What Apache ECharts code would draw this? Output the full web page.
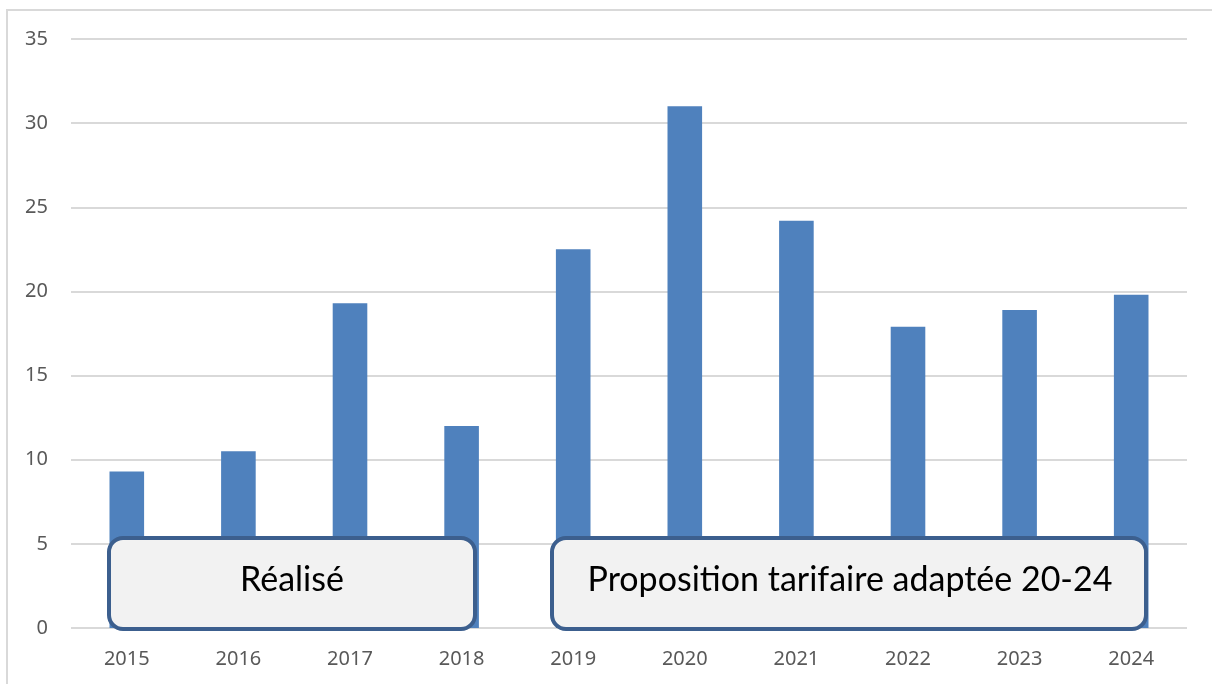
<!DOCTYPE html>
<html>
<head>
<meta charset="utf-8">
<script src="https://cdn.jsdelivr.net/npm/echarts@6/dist/echarts.min.js"></script>
<style>html,body{margin:0;padding:0;background:#fff;}#c{width:1212px;height:684px;}</style>
</head>
<body>
<div id="c"></div>
<script>
const years = ['2015','2016','2017','2018','2019','2020','2021','2022','2023','2024'];
const values = [9.3, 10.5, 19.3, 12.0, 22.5, 31.0, 24.2, 17.9, 18.9, 19.8];
const boxLabels = ['Réalisé', 'Proposition tarifaire adaptée 20-24'];

const chart = echarts.init(document.getElementById('c'), null, {renderer: 'canvas'});
const boxStyle = {fill: '#f2f2f2', stroke: '#3c5f8e', lineWidth: 4};
const boxText = {fill: '#000', fontFamily: 'Lato', fontSize: 34, align: 'center', verticalAlign: 'middle'};
chart.setOption({
  animation: false,
  grid: {left: 71, right: 25, top: 39, bottom: 56},
  xAxis: {
    type: 'category', data: years,
    axisLine: {show: false}, axisTick: {show: false},
    axisLabel: {color: '#595959', fontSize: 20, fontFamily: 'Noto Sans', margin: 21}
  },
  yAxis: {
    type: 'value', min: 0, max: 35, interval: 5,
    axisLine: {show: false}, axisTick: {show: false},
    splitLine: {lineStyle: {color: '#d9d9d9', width: 2}},
    axisLabel: {color: '#595959', fontSize: 20, fontFamily: 'Noto Sans', margin: 23}
  },
  series: [{
    type: 'bar', data: values, barWidth: '31%',
    itemStyle: {color: '#4f81bd'}
  }],
  graphic: [
    {type: 'rect', shape: {x: 7, y: 10, width: 1220, height: 700}, style: {fill: 'none', stroke: '#d9d9d9', lineWidth: 2}, z: 0},
    {type: 'rect', shape: {x: 109, y: 538, width: 366, height: 91, r: 14}, style: boxStyle, z: 10},
    {type: 'text', x: 292, y: 580, style: Object.assign({text: boxLabels[0]}, boxText), z: 11},
    {type: 'rect', shape: {x: 552, y: 538, width: 594, height: 91, r: 14}, style: boxStyle, z: 10},
    {type: 'text', x: 850, y: 580, style: Object.assign({text: boxLabels[1]}, boxText), z: 11}
  ]
});
</script>
</body>
</html>
